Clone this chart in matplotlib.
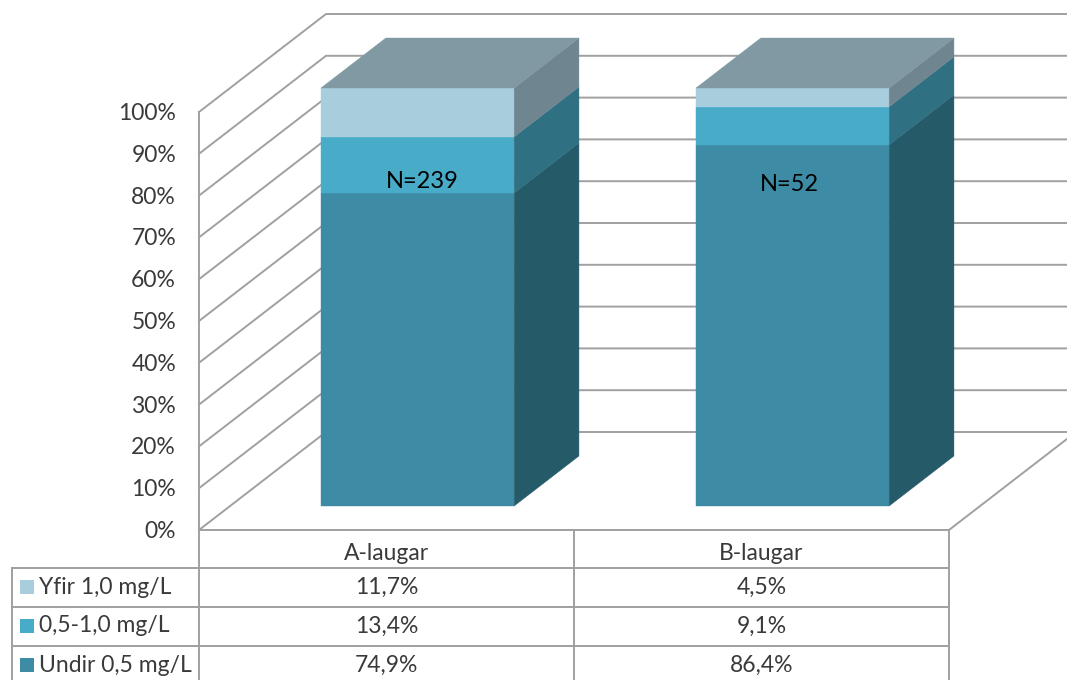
import matplotlib
matplotlib.use('Agg')
import matplotlib.pyplot as plt
from matplotlib.patches import Polygon, Rectangle

plt.rcParams['font.family'] = ['Lato', 'DejaVu Sans']

# Data
groups = ['A-laugar', 'B-laugar']
sample_labels = ['N=239', 'N=52']
series_names = ['Undir 0,5 mg/L', '0,5-1,0 mg/L', 'Yfir 1,0 mg/L']
undir = [74.9, 86.4]
midja = [13.4, 9.1]
yfir = [11.7, 4.5]
yticks = [0, 10, 20, 30, 40, 50, 60, 70, 80, 90, 100]

front_colors = ['#3D8BA5', '#48ABC8', '#A8CDDC']
side_colors = ['#255A69', '#2F7083', '#6F8691']
top_color = '#8099A3'
line_color = '#A0A0A0'
text_color = '#3A3A3A'

# Fake 3D: depth d (0 front, 1 back) shifts points up and right
DX = 127 / 375
DY = 98 / 4.18
BAR_W = 0.515
D0, D1 = 0.245, 0.755


def proj(x, y, d):
    return x + d * DX, y + d * DY


fig = plt.figure(figsize=(10.67, 6.8), dpi=100)
ax = fig.add_axes([0, 0, 1, 1])
ax.set_xlim(-199 / 375, (1067 - 199) / 375)
ax.set_ylim(-150 / 4.18, 530 / 4.18)
ax.axis('off')

# walls and floor
for t in yticks:
    x0, y0 = proj(0, t, 0)
    x1, y1 = proj(0, t, 1)
    ax.plot([x0, x1, 3], [y0, y1, y1], color=line_color, lw=1.4, zorder=1)
ax.plot([0, 0], [0, 100], color=line_color, lw=1.4, zorder=1)
ax.plot([0, 2], [0, 0], color=line_color, lw=1.4, zorder=1)
ax.plot([2, proj(2, 0, 1)[0]], [0, DY], color=line_color, lw=1.4, zorder=1)

# stacked bars
for i in range(len(groups)):
    left = i + 0.5 - BAR_W / 2
    right = left + BAR_W
    base = 0
    for vals, fc, sc in zip([undir, midja, yfir], front_colors, side_colors):
        top = base + vals[i]
        front = [proj(left, base, D0), proj(right, base, D0),
                 proj(right, top, D0), proj(left, top, D0)]
        side = [proj(right, base, D0), proj(right, base, D1),
                proj(right, top, D1), proj(right, top, D0)]
        ax.add_patch(Polygon(front, closed=True, fc=fc, ec=fc, lw=0.3, zorder=3))
        ax.add_patch(Polygon(side, closed=True, fc=sc, ec=sc, lw=0.3, zorder=3))
        base = top
    lid = [proj(left, base, D0), proj(right, base, D0),
           proj(right, base, D1), proj(left, base, D1)]
    ax.add_patch(Polygon(lid, closed=True, fc=top_color, ec=top_color, lw=0.3, zorder=3))

    ax.text(i + 0.5 + DX * D0 + (0.013 if i == 0 else -0.008), 83.3 if i == 0 else 82.6,
            sample_labels[i], ha='center', va='center', fontsize=17, color='black', zorder=5)

for t in yticks:
    ax.text(-0.061, t - 0.35, f'{t}%', ha='right', va='center', fontsize=16.5, color=text_color)

# data table below the chart, laid out in pixels
tab = fig.add_axes([0, 0, 1, 1])
tab.set_xlim(0, 1067)
tab.set_ylim(680, 0)
tab.axis('off')
tab.patch.set_alpha(0)

for px in [199, 574, 949]:
    tab.plot([px, px], [530, 680], color=line_color, lw=1.4)
tab.plot([12, 12], [568, 680], color=line_color, lw=1.4)
for py in [568, 607, 646]:
    tab.plot([12, 949], [py, py], color=line_color, lw=1.4)

tab.text(386.5, 554, groups[0], ha='center', va='center', fontsize=16.5, color=text_color)
tab.text(761.5, 554, groups[1], ha='center', va='center', fontsize=16.5, color=text_color)

rows = [(yfir, series_names[2], front_colors[2], 587),
        (midja, series_names[1], front_colors[1], 626),
        (undir, series_names[0], front_colors[0], 665)]
for vals, name, color, py in rows:
    tab.add_patch(Rectangle((20, py - 7), 13.5, 13.5, fc=color, ec='none'))
    tab.text(39, py, name, ha='left', va='center', fontsize=16.5, color=text_color)
    for j, v in enumerate(vals):
        label = f'{v:.1f}%'.replace('.', ',')
        tab.text(386.5 + 375 * j, py, label, ha='center', va='center', fontsize=16.5, color=text_color)

fig.savefig('out.png', dpi=100)
